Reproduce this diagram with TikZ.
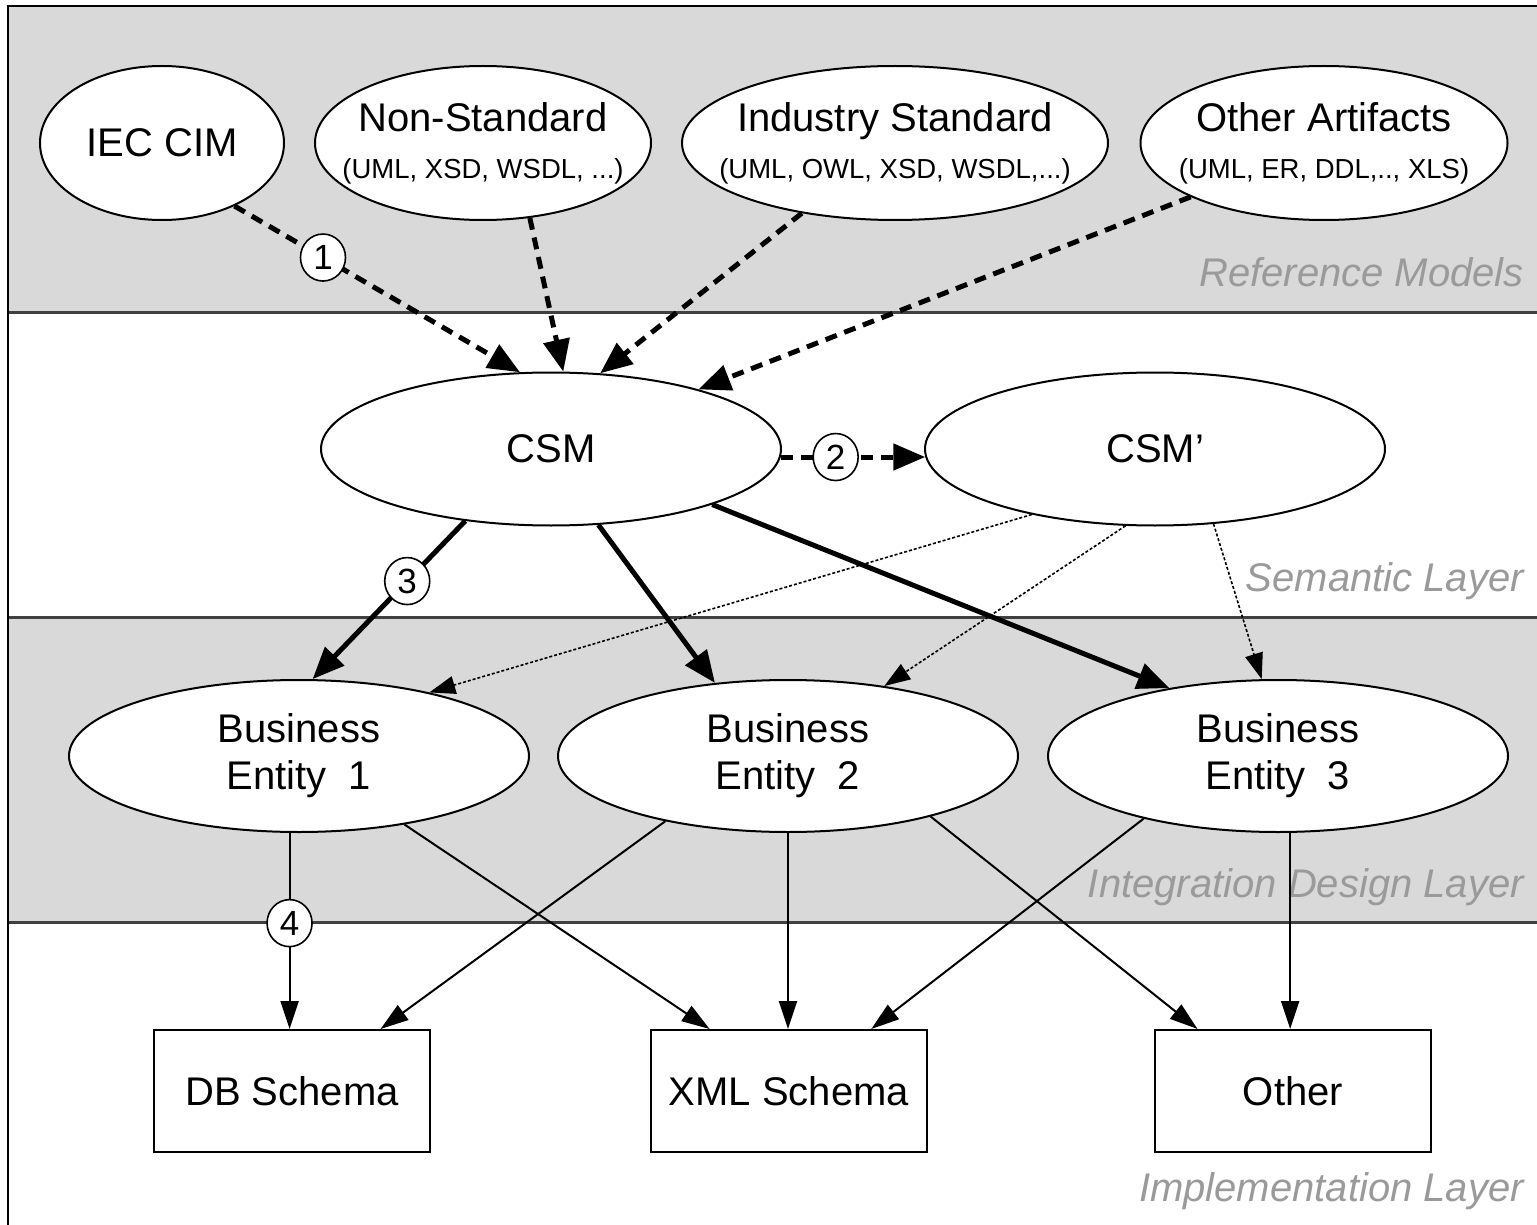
\documentclass[tikz,border=0pt]{standalone}
\usepackage{fontspec}
\setmainfont{Liberation Sans}
\usetikzlibrary{shapes.geometric,arrows.meta}
\definecolor{bandgray}{HTML}{D9D9D9}
\definecolor{labelgray}{HTML}{9A9A9A}
\definecolor{sepgray}{HTML}{404040}
\newcommand\bigfs{\fontsize{40pt}{47pt}\selectfont}
\newcommand\smallfs{\fontsize{27.5pt}{33pt}\selectfont}
\newcommand\numfs{\fontsize{35pt}{38pt}\selectfont}
\begin{document}
\begin{tikzpicture}[x=1pt,y=-1pt,
  ell/.style={ellipse, draw, line width=2pt, fill=white, inner sep=-40pt, align=center, font=\bigfs},
  box/.style={rectangle, draw, line width=2pt, fill=white, minimum width=276pt, minimum height=122pt, inner sep=0pt, font=\bigfs},
  num/.style={ellipse, draw, line width=1.6pt, fill=white, minimum width=45pt, minimum height=47pt, inner sep=0pt, font=\numfs, solid},
  layerlabel/.style={anchor=base east, font=\bigfs\itshape, text=labelgray, inner sep=0pt},
  dasharrow/.style={line width=5pt, dash pattern=on 12pt off 8pt, -{Triangle[length=32pt,width=26pt]}},
  thickarrow/.style={line width=5pt, -{Triangle[length=32pt,width=26pt]}},
  dotarrow/.style={line width=1.6pt, dash pattern=on 3pt off 2pt, -{Triangle[length=26pt,width=18pt]}},
  thinarrow/.style={line width=2pt, -{Triangle[length=28pt,width=18pt]}}
]
\useasboundingbox (0,0) rectangle (1537,1225);
% bands
\fill[bandgray] (8,6) rectangle (1537,312);
\fill[bandgray] (8,617) rectangle (1537,922);
\draw[sepgray, line width=3pt] (8,312) -- (1537,312);
\draw[sepgray, line width=3pt] (8,617) -- (1537,617);
\draw[sepgray, line width=3pt] (8,922) -- (1537,922);
\draw[line width=2pt] (1537,6) -- (8,6) -- (8,1225);
% layer labels
\node[layerlabel] (lref) at (1524,286) {Reference Models};
\node[layerlabel] (lsem) at (1524,591) {Semantic Layer};
\node[layerlabel] (lint) at (1524,897) {Integration Design Layer};
\node[layerlabel] (limp) at (1524,1201) {Implementation Layer};
% reference models
\node[ell, minimum width=244pt, minimum height=154pt] (iec) at (162,143) {IEC CIM};
\node[ell, minimum width=336pt, minimum height=154pt] (nonstd) at (483,143) {Non-Standard\\{\smallfs (UML, XSD, WSDL, ...)}};
\node[ell, minimum width=426pt, minimum height=154pt] (indstd) at (895,143) {Industry Standard\\{\smallfs (UML, OWL, XSD, WSDL,...)}};
\node[ell, minimum width=367pt, minimum height=154pt] (other) at (1324,143) {Other Artifacts\\{\smallfs (UML, ER, DDL,.., XLS)}};
% semantic layer
\node[ell, minimum width=460pt, minimum height=153pt] (csm) at (551,449) {CSM};
\node[ell, minimum width=460pt, minimum height=153pt] (csmp) at (1155,449) {CSM’};
% integration design layer
\node[ell, minimum width=460pt, minimum height=152pt] (be1) at (299,756) {Business\\Entity\ \ 1};
\node[ell, minimum width=460pt, minimum height=152pt] (be2) at (788,756) {Business\\Entity\ \ 2};
\node[ell, minimum width=460pt, minimum height=152pt] (be3) at (1278,756) {Business\\Entity\ \ 3};
% implementation layer
\node[box] (db) at (292,1091) {DB Schema};
\node[box] (xml) at (789,1091) {XML Schema};
\node[box] (oth) at (1293,1091) {Other};
% reference -> CSM
\draw[dasharrow] (iec.-41) -- node[num,pos=0.31] (n1) {1} (csm.112);
\draw[dasharrow] (nonstd.-58) -- (csm.81);
\draw[dasharrow] (indstd.217) -- (csm.57);
\draw[dasharrow] (other.202) -- (csm.22);
\draw[dasharrow] (csm.-2) -- node[num,pos=0.38] (n2) {2} (csmp.182);
% CSM -> business entities
\draw[thickarrow] (csm.220) -- node[num,pos=0.38] (n3) {3} (be1.80);
\draw[thickarrow] (csm.-58) -- (be2.135);
\draw[thickarrow] (csm.-19) -- (be3.148);
% CSM' -> business entities
\draw[dotarrow] (csmp.208) -- (be1.26);
\draw[dotarrow] (csmp.249) -- (be2.36);
\draw[dotarrow] (csmp.-52) -- (be3.102);
% business entities -> implementation
\draw[thinarrow] (be1.-97) -- node[num,pos=0.46] (n4) {4} (be1.-97 |- db.north);
\draw[thinarrow] (be1.-33) -- (xml.142);
\draw[thinarrow] (be2.208) -- (db.35);
\draw[thinarrow] (be2.south) -- (be2.south |- xml.north);
\draw[thinarrow] (be2.-23) -- (oth.147);
\draw[thinarrow] (be3.205) -- (xml.37);
\draw[thinarrow] (be3.-81) -- (be3.-81 |- oth.north);
\end{tikzpicture}
\end{document}
